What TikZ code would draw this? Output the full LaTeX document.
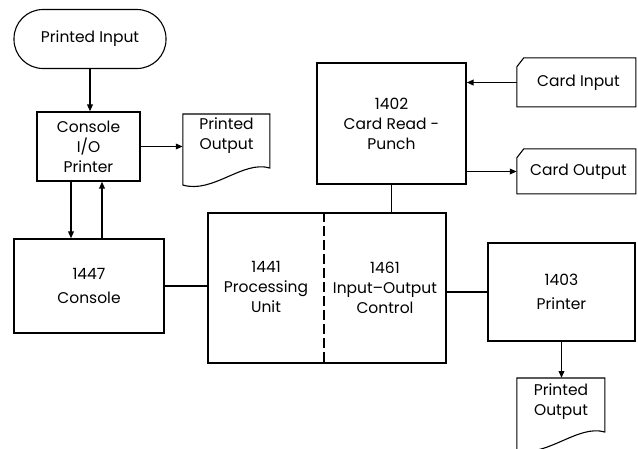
\documentclass[tikz,border=0pt]{standalone}
\usepackage{fontspec}
\setmainfont{Poppins}
\usetikzlibrary{arrows.meta}
\begin{document}
\begin{tikzpicture}[x=1pt,y=-1pt,
  lbl/.style={align=center,inner sep=0pt,font=\fontsize{15.5}{20}\selectfont},
  box/.style={lbl,draw,line width=1.1pt},
  outline/.style={draw,line width=1.1pt},
  conn/.style={line width=1.8pt},
  arr/.style={conn,-{Triangle[length=7pt,width=5.5pt]}}]
\useasboundingbox (0,0) rectangle (638,448);
% nodes
\node[box,rounded corners=29pt,minimum width=152pt,minimum height=59pt] (pin) at (90,39) {Printed Input};
\node[box,minimum width=103pt,minimum height=69pt] (cio) at (88.5,146.5) {Console\\I/O\\Printer};
\node[lbl,anchor=north,minimum width=87pt,minimum height=42pt] (po1) at (226.5,114) {Printed\\Output};
\node[box,minimum width=150pt,minimum height=94pt] (console) at (89,286) {1447\\[4pt]Console};
\node[box,minimum width=238pt,minimum height=150pt] (proc) at (327,288) {};
\node[lbl] (t1441) at (266,287) {1441\\Processing\\Unit};
\node[lbl] (t1461) at (385,288) {1461\\Input--Output\\Control};
\node[box,minimum width=149pt,minimum height=121pt] (crp) at (391.5,123.5) {1402\\Card Read -\\Punch};
\node[lbl,minimum width=119pt,minimum height=49pt] (cin) at (576.5,82.5) {\hspace*{4pt}Card Input};
\node[lbl,minimum width=119pt,minimum height=45pt] (cout) at (576.5,171.5) {\hspace*{4pt}Card Output};
\node[box,minimum width=147pt,minimum height=98pt] (prt) at (561.5,292) {1403\\[4pt]Printer};
\node[lbl,anchor=north,minimum width=88pt,minimum height=46pt] (po2) at (561,378) {Printed\\Output};
\coordinate (div) at (324,0);
% shapes drawn around text nodes
\draw[outline,shift={(po1.north west)}] (0,0) -- (87,0) -- (87,54)
  .. controls (60,46) and (30,80) .. (0,71) -- cycle;
\draw[outline,shift={(po2.north west)}] (0,0) -- (88,0) -- (88,54)
  .. controls (61,46) and (30,80) .. (0,72) -- cycle;
\draw[outline,shift={(cin.north west)}] (0,9) -- (7,0) -- (119,0) -- (119,49) -- (0,49) -- cycle;
\draw[outline,shift={(cout.north west)}] (0,9) -- (7,0) -- (119,0) -- (119,45) -- (0,45) -- cycle;
\draw[line width=1.1pt,dash pattern=on 10pt off 4pt] (proc.north -| div) -- (proc.south -| div);
% connectors
\draw[arr] (pin.south) -- (pin.south |- cio.north);
\draw[arr] (cio.east) -- (cio.east -| po1.west);
\draw[arr] ([xshift=-17.5pt]cio.south) -- ([xshift=-17.5pt]cio.south |- console.north);
\draw[arr] ([xshift=13.5pt]cio.south |- console.north) -- ([xshift=13.5pt]cio.south);
\draw[conn] (console.east) -- (console.east -| proc.west);
\draw[conn] (crp.south) -- (crp.south |- proc.north);
\draw[arr] (cin.west) -- (cin.west -| crp.east);
\draw[arr] (crp.east |- cout.west) -- (cout.west);
\draw[line width=1.4pt] (prt.west -| proc.east) -- (prt.west);
\draw[arr] (prt.south) -- (prt.south |- po2.north);
\end{tikzpicture}
\end{document}
